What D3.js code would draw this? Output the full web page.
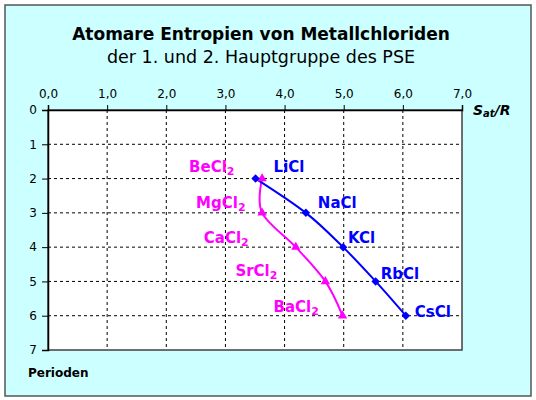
<!DOCTYPE html>
<html>
<head>
<meta charset="utf-8">
<title>Atomare Entropien von Metallchloriden</title>
<script src="https://cdn.jsdelivr.net/npm/d3@7"></script>
<style>
  body { margin: 0; background: #fff; }
  text { font-family: "DejaVu Sans", Verdana, sans-serif; }
</style>
</head>
<body>
<div id="chart"></div>
<script>
// Perioden (y-Achse, nach unten)
const perioden = [2, 3, 4, 5, 6];

// 1. Hauptgruppe: Name und S_at/R
const namenH1 = ["LiCl", "NaCl", "KCl", "RbCl", "CsCl"];
const entropieH1 = [3.51, 4.36, 4.99, 5.54, 6.05];

// 2. Hauptgruppe (die tiefgestellte 2 wird beim Zeichnen angehaengt)
const namenH2 = ["BeCl", "MgCl", "CaCl", "SrCl", "BaCl"];
const entropieH2 = [3.62, 3.62, 4.19, 4.69, 4.98];

// Achsenwerte
const xTicks = [0, 1, 2, 3, 4, 5, 6, 7];
const yTicks = [0, 1, 2, 3, 4, 5, 6, 7];

// Verschiebung der Beschriftungen gegenueber dem Punkt (px)
const offsetH1 = [[18, -7], [12, -5], [5, -4], [5, -2], [9, 1]];
const offsetH2 = [[-73, -7], [-66, -5], [-92, -4], [-90, -5], [-69, -4]];

const W = 536, H = 400;
const plotL = 48, plotR = 462, plotT = 110, plotB = 350;

const svg = d3.select("#chart").append("svg")
  .attr("width", W)
  .attr("height", H);

// Rahmen / Hintergrund
svg.append("rect")
  .attr("x", 5).attr("y", 5)
  .attr("width", 526).attr("height", 391)
  .attr("fill", "#ccffff")
  .attr("stroke", "#555")
  .attr("stroke-width", 1.5);

// Titel
svg.append("text")
  .attr("x", 261).attr("y", 40)
  .attr("text-anchor", "middle")
  .style("font-size", "17px")
  .style("font-weight", "bold")
  .text("Atomare Entropien von Metallchloriden");

svg.append("text")
  .attr("x", 261).attr("y", 63)
  .attr("text-anchor", "middle")
  .style("font-size", "17.5px")
  .text("der 1. und 2. Hauptgruppe des PSE");

// Skalen
const x = d3.scaleLinear().domain([0, 7]).range([plotL, plotR]);
const y = d3.scaleLinear().domain([0, 7]).range([plotT, plotB]);

// Zeichenflaeche
svg.append("rect")
  .attr("x", plotL).attr("y", plotT)
  .attr("width", plotR - plotL).attr("height", plotB - plotT)
  .attr("fill", "#fff")
  .attr("stroke", "#404040")
  .attr("stroke-width", 1.5);

// Gitternetz gestrichelt
svg.append("g")
  .selectAll("line")
  .data(xTicks.slice(1, -1))
  .join("line")
  .attr("x1", d => x(d)).attr("x2", d => x(d))
  .attr("y1", plotT).attr("y2", plotB)
  .attr("stroke", "#000")
  .attr("stroke-dasharray", "3,3");

svg.append("g")
  .selectAll("line")
  .data(yTicks.slice(1, -1))
  .join("line")
  .attr("x1", plotL).attr("x2", plotR)
  .attr("y1", d => y(d)).attr("y2", d => y(d))
  .attr("stroke", "#000")
  .attr("stroke-dasharray", "3,3");

// Achse oben
const xAxis = svg.append("g")
  .attr("transform", `translate(0,${plotT})`)
  .call(d3.axisTop(x)
    .tickValues(xTicks)
    .tickSize(5)
    .tickPadding(7)
    .tickFormat(d => d3.format(".1f")(d).replace(".", ",")));

// Achse links
const yAxis = svg.append("g")
  .attr("transform", `translate(${plotL},0)`)
  .call(d3.axisLeft(y)
    .tickValues(yTicks)
    .tickSize(6)
    .tickPadding(5)
    .tickFormat(d3.format("d")));

[xAxis, yAxis].forEach(a => {
  a.select(".domain").attr("stroke", "#000").attr("stroke-width", 1.5);
  a.selectAll(".tick line").attr("stroke", "#000");
  a.selectAll(".tick text")
    .style("font-family", "'DejaVu Sans', Verdana, sans-serif")
    .style("font-size", "12px")
    .attr("fill", "#000");
});

// Achsentitel
const sLabel = svg.append("text")
  .attr("x", 473).attr("y", 115)
  .style("font-size", "14px")
  .style("font-weight", "bold")
  .style("font-style", "italic");
sLabel.append("tspan").text("S");
sLabel.append("tspan").attr("dy", 2).style("font-size", "10px").text("at");
sLabel.append("tspan").attr("dy", -2).text("/R");

svg.append("text")
  .attr("x", 28).attr("y", 377)
  .style("font-size", "12px")
  .style("font-weight", "bold")
  .text("Perioden");

// Datenreihen
const reihe1 = perioden.map((p, i) => ({ p, s: entropieH1[i], name: namenH1[i], off: offsetH1[i] }));
const reihe2 = perioden.map((p, i) => ({ p, s: entropieH2[i], name: namenH2[i], off: offsetH2[i] }));

const line = d3.line()
  .x(d => x(d.s))
  .y(d => y(d.p))
  .curve(d3.curveCardinal.tension(0));

const blau = "#0000ff", magenta = "#ff00ff";

svg.append("path")
  .datum(reihe2)
  .attr("d", line)
  .attr("fill", "none")
  .attr("stroke", magenta)
  .attr("stroke-width", 2);

svg.append("path")
  .datum(reihe1)
  .attr("d", line)
  .attr("fill", "none")
  .attr("stroke", blau)
  .attr("stroke-width", 2);

// Marker
svg.append("g")
  .selectAll("path")
  .data(reihe2)
  .join("path")
  .attr("transform", d => `translate(${x(d.s)},${y(d.p)})`)
  .attr("d", d3.symbol(d3.symbolTriangle, 38))
  .attr("fill", magenta);

svg.append("g")
  .selectAll("path")
  .data(reihe1)
  .join("path")
  .attr("transform", d => `translate(${x(d.s)},${y(d.p)}) rotate(45)`)
  .attr("d", d3.symbol(d3.symbolSquare, 36))
  .attr("fill", blau);

// Beschriftungen
svg.append("g")
  .selectAll("text")
  .data(reihe1)
  .join("text")
  .attr("x", d => x(d.s) + d.off[0])
  .attr("y", d => y(d.p) + d.off[1])
  .attr("fill", blau)
  .style("font-size", "15px")
  .style("font-weight", "bold")
  .text(d => d.name);

const lab2 = svg.append("g")
  .selectAll("text")
  .data(reihe2)
  .join("text")
  .attr("x", d => x(d.s) + d.off[0])
  .attr("y", d => y(d.p) + d.off[1])
  .attr("fill", magenta)
  .style("font-size", "15px")
  .style("font-weight", "bold");
lab2.append("tspan").text(d => d.name);
lab2.append("tspan").attr("dy", 3).style("font-size", "11px").text("2");
</script>
</body>
</html>
